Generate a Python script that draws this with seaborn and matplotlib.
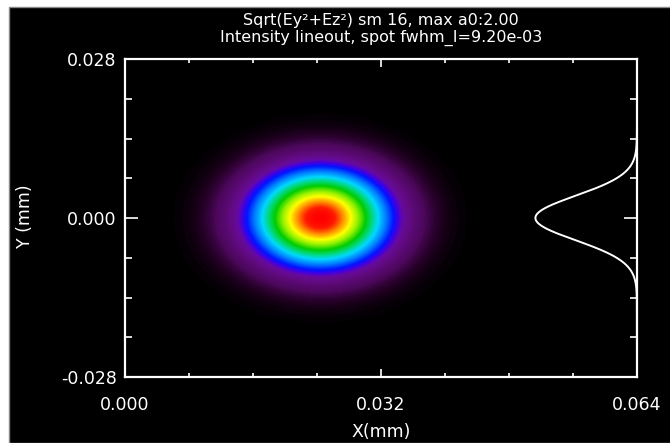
import numpy as np
import matplotlib
matplotlib.use("Agg")
import matplotlib.pyplot as plt
from matplotlib.colors import LinearSegmentedColormap
from matplotlib.patches import Rectangle
from matplotlib.ticker import MultipleLocator
import seaborn as sns

# ---------------- data ----------------
x_range = [0.0, 0.064]
y_range = [-0.028, 0.028]
x_ticks = [0.000, 0.032, 0.064]
x_tick_labels = ["0.000", "0.032", "0.064"]
y_ticks = [-0.028, 0.000, 0.028]
y_tick_labels = ["-0.028", "0.000", "0.028"]
x_minor_step = 0.008
y_minor_step = 0.007

spot_center = [0.0244, 0.0]     # mm
spot_fwhm_I = 9.20e-03          # intensity FWHM (mm), from the title
a0_max = 2.00                   # peak field amplitude, from the title

lineout_base = 0.064            # x position of the lineout baseline (mm)
lineout_height = 0.0127         # x extent of the lineout peak (mm)

title_lines = ["Sqrt(Ey\u00b2+Ez\u00b2) sm 16, max a0:2.00",
               "Intensity lineout, spot fwhm_I=9.20e-03"]
x_label = "X(mm)"
y_label = "Y (mm)"

# IDL-like rainbow colour table (fraction of max -> colour)
cmap_stops = [
    (0.00, (0.00, 0.00, 0.00)),
    (0.02, (0.12, 0.00, 0.12)),
    (0.06, (0.30, 0.03, 0.36)),
    (0.12, (0.38, 0.04, 0.50)),
    (0.17, (0.40, 0.04, 0.62)),
    (0.21, (0.25, 0.00, 0.90)),
    (0.25, (0.00, 0.08, 1.00)),
    (0.33, (0.00, 0.50, 1.00)),
    (0.42, (0.00, 0.85, 1.00)),
    (0.50, (0.00, 0.85, 0.50)),
    (0.59, (0.00, 0.80, 0.00)),
    (0.70, (0.60, 0.95, 0.00)),
    (0.79, (1.00, 1.00, 0.00)),
    (0.88, (1.00, 0.55, 0.00)),
    (0.95, (1.00, 0.10, 0.00)),
    (1.00, (1.00, 0.00, 0.00)),
]

# ---------------- style ----------------
sns.set_theme(style="dark")
plt.rcParams["font.family"] = ["DejaVu Sans"]
cmap = LinearSegmentedColormap.from_list("idl_rainbow", cmap_stops)

fig = plt.figure(figsize=(6.70, 4.43), dpi=100, facecolor="white")
# black panel (white strip at top / left as in the reference)
fig.patches.append(Rectangle((9 / 670, 0), 1, 1 - 7 / 443, transform=fig.transFigure,
                             facecolor="black", edgecolor="#888888", linewidth=1.0, zorder=-10))

ax = fig.add_axes([125 / 670, 1 - 377 / 443, (637 - 125) / 670, (377 - 59) / 443])
ax.set_facecolor("black")
ax.grid(False)
ax.set_axisbelow(False)

# ---------------- field map ----------------
nx, ny = 512, 320
xs = np.linspace(x_range[0], x_range[1], nx)
ys = np.linspace(y_range[0], y_range[1], ny)
XX, YY = np.meshgrid(xs, ys)
r2 = (XX - spot_center[0]) ** 2 + (YY - spot_center[1]) ** 2
field = a0_max * np.exp(-2 * np.log(2) * r2 / spot_fwhm_I ** 2)
ax.imshow(field, extent=[x_range[0], x_range[1], y_range[0], y_range[1]], origin="lower",
          aspect="auto", cmap=cmap, vmin=0, vmax=a0_max, interpolation="bilinear", zorder=1)

# ---------------- intensity lineout ----------------
y_line = np.linspace(y_range[0], y_range[1], 600)
intensity = np.exp(-4 * np.log(2) * (y_line - spot_center[1]) ** 2 / spot_fwhm_I ** 2)
sns.lineplot(x=lineout_base - lineout_height * intensity, y=y_line, orient="y",
             estimator=None, color="white", linewidth=1.4, ax=ax, zorder=3)

ax.set_xlim(x_range)
ax.set_ylim(y_range)

# ---------------- axes decoration ----------------
for s in ax.spines.values():
    s.set_visible(True)
    s.set_color("white")
    s.set_linewidth(1.6)
    s.set_zorder(4)

ax.set_xticks(x_ticks)
ax.set_xticklabels(x_tick_labels)
ax.set_yticks(y_ticks)
ax.set_yticklabels(y_tick_labels)
ax.xaxis.set_minor_locator(MultipleLocator(x_minor_step))
ax.yaxis.set_minor_locator(MultipleLocator(y_minor_step))

ax.tick_params(axis="x", which="major", direction="in", length=6, width=1.2, color="white",
               top=True, bottom=True, labelcolor="white", labelsize=12.5, pad=14)
ax.tick_params(axis="x", which="minor", direction="in", length=3, width=1.2, color="white",
               top=True, bottom=True)
ax.tick_params(axis="y", which="major", direction="in", length=9.5, width=1.2, color="white",
               left=True, right=True, labelcolor="white", labelsize=12.5, pad=6)
ax.tick_params(axis="y", which="minor", direction="in", length=4.7, width=1.2, color="white",
               left=True, right=True)
ax.xaxis.set_zorder(5)
ax.yaxis.set_zorder(5)

fig.text(381 / 670, 1 - 432 / 443, x_label, color="white", fontsize=12.5,
         ha="center", va="center")
fig.text(25 / 670, 1 - 216 / 443, y_label, color="white", fontsize=12.5,
         ha="center", va="center", rotation=90)

fig.text(381 / 670, 1 - 21 / 443, title_lines[0], color="white", fontsize=11.5,
         ha="center", va="center")
fig.text(381 / 670, 1 - 38 / 443, title_lines[1], color="white", fontsize=11.5,
         ha="center", va="center")

fig.savefig("out.png", dpi=100, facecolor=fig.get_facecolor())
